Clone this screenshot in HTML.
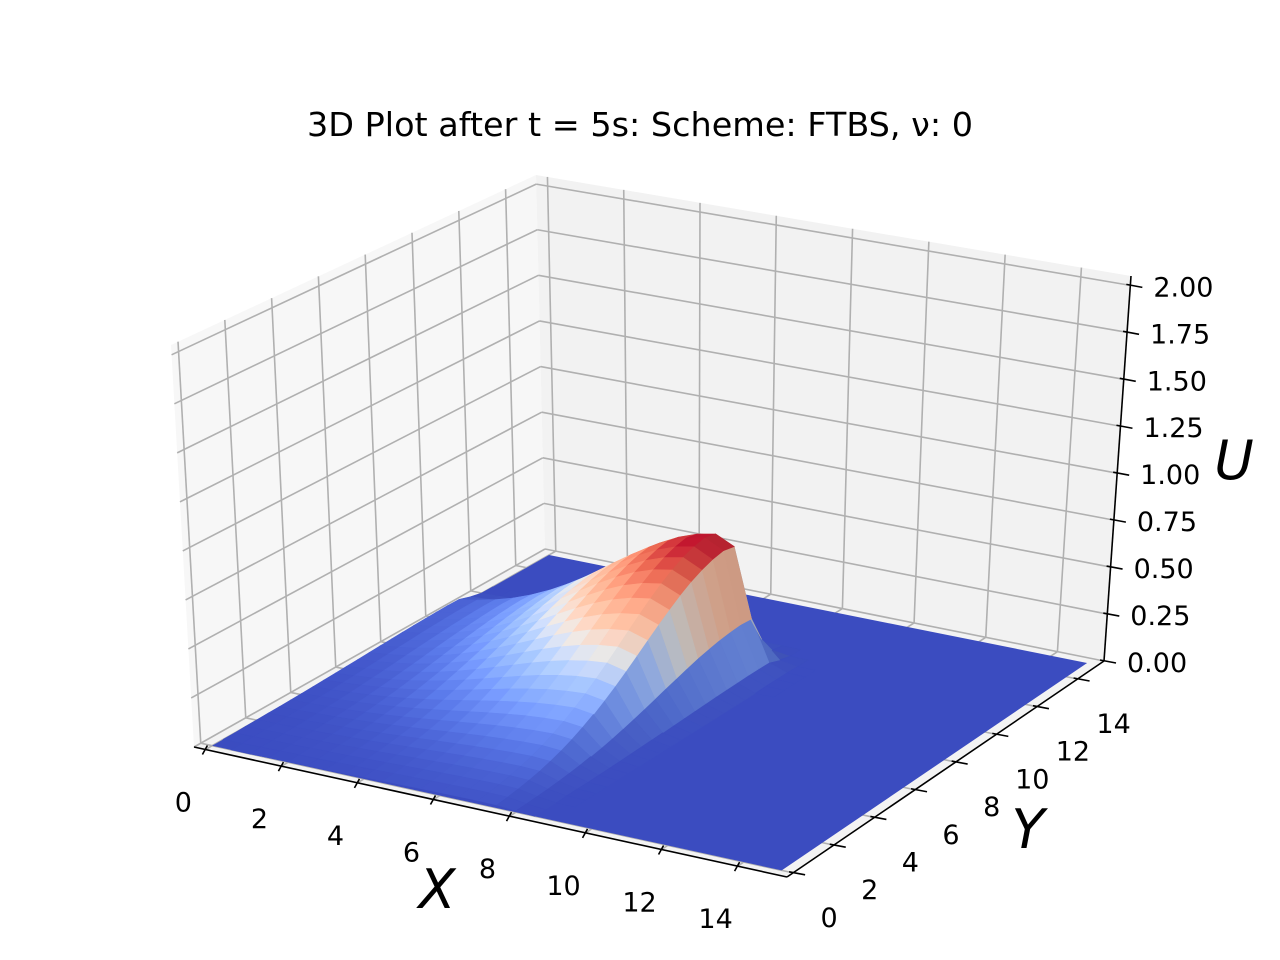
<!DOCTYPE html>
<html><head><meta charset="utf-8">
<style>
html,body{margin:0;padding:0;background:#fff;}
svg{display:block;font-family:"DejaVu Sans","Liberation Sans",sans-serif;}
</style></head>
<body>
<svg id="chart" width="1280" height="960" viewBox="0 0 1280 960" xmlns="http://www.w3.org/2000/svg">
<rect width="1280" height="960" fill="#fff"/>
<text x="640" y="136" font-size="33" text-anchor="middle" fill="#000" textLength="666" lengthAdjust="spacingAndGlyphs">3D Plot after t = 5s: Scheme: FTBS, ν: 0</text>
<g id="panes"></g>
<g id="grid"></g>
<g id="surf"></g>
<g id="axes"></g>
<text x="437" y="908" font-size="54" font-style="italic" text-anchor="middle">X</text>
<text x="1028" y="848" font-size="54" font-style="italic" text-anchor="middle">Y</text>
<text x="1234" y="479" font-size="54" font-style="italic" text-anchor="middle">U</text>
</svg>
<script>
// data
const xTicks = [0,2,4,6,8,10,12,14];
const yTicks = [0,2,4,6,8,10,12,14];
const zTicks = [0,0.25,0.5,0.75,1.0,1.25,1.5,1.75,2.0];
const zTickLabels = ["0.00","0.25","0.50","0.75","1.00","1.25","1.50","1.75","2.00"];
const peakU = [0.68];
const peakXY = [7.3, 10.9];
const tailSigma = [3.0, 4.0];
const frontSigma = [0.5, 0.45];

const NS="http://www.w3.org/2000/svg";
const xmin=-0.3,xmax=15.3,ymin=-0.3,ymax=15.3,zmin=0,zmax=2.05;
const C={F00:[194,747],F10:[787,877],F11:[1104,661],F01:[545,549],
         T00:[171,345],T10:[805,470],T11:[1131,276],T01:[536,175]};
function lerp(a,b,t){return [a[0]+(b[0]-a[0])*t,a[1]+(b[1]-a[1])*t];}
function proj(x,y,z){
  const u=(x-xmin)/(xmax-xmin),v=(y-ymin)/(ymax-ymin),w=(z-zmin)/(zmax-zmin);
  const b=lerp(lerp(C.F00,C.F10,u),lerp(C.F01,C.F11,u),v);
  const t=lerp(lerp(C.T00,C.T10,u),lerp(C.T01,C.T11,u),v);
  return lerp(b,t,w);
}
function el(tag,attrs,parent){const e=document.createElementNS(NS,tag);for(const k in attrs)e.setAttribute(k,attrs[k]);parent.appendChild(e);return e;}
function pts(a){return a.map(p=>p[0].toFixed(1)+","+p[1].toFixed(1)).join(" ");}

// panes
const panes=document.getElementById('panes');
let p=el('polygon',{points:pts([proj(xmin,ymin,zmin),proj(xmin,ymin,zmax),proj(xmin,ymax,zmax),proj(xmin,ymax,zmin)]),fill:'#f7f7f7'},panes);

p=el('polygon',{points:pts([proj(xmin,ymax,zmin),proj(xmin,ymax,zmax),proj(xmax,ymax,zmax),proj(xmax,ymax,zmin)]),fill:'#f2f2f2'},panes);

p=el('polygon',{points:pts([proj(xmin,ymin,zmin),proj(xmax,ymin,zmin),proj(xmax,ymax,zmin),proj(xmin,ymax,zmin)]),fill:'#f3f3f3'},panes);


// grid
const grid=document.getElementById('grid');
function gl(a,b,name){const l=el('line',{x1:a[0],y1:a[1],x2:b[0],y2:b[1],stroke:'#b0b0b0','stroke-width':1.6},grid);
  }
zTicks.forEach(z=>{gl(proj(xmin,ymin,z),proj(xmin,ymax,z),'z-gridline');gl(proj(xmin,ymax,z),proj(xmax,ymax,z),'z-gridline');});
yTicks.forEach(y=>{gl(proj(xmin,y,zmin),proj(xmin,y,zmax),'y-gridline');gl(proj(xmin,y,zmin),proj(xmax,y,zmin),'y-gridline');});
xTicks.forEach(x=>{gl(proj(x,ymax,zmin),proj(x,ymax,zmax),'x-gridline');gl(proj(x,ymin,zmin),proj(x,ymax,zmin),'x-gridline');});

// surface
function f1(d,s,fs){return d<=0?Math.exp(-d*d/(2*s*s)):Math.exp(-d*d/(2*fs*fs));}
function U(x,y){const v=peakU[0]*f1(x-peakXY[0],tailSigma[0],frontSigma[0])*f1(y-peakXY[1],tailSigma[1],frontSigma[1]);return v<0.002?0:v;}
const cmapS=[0,0.125,0.25,0.375,0.5,0.625,0.75,0.875,1];
const cmapC=[[59,76,192],[88,118,226],[124,159,249],[162,192,254],[221,221,221],[245,190,163],[244,154,123],[222,96,76],[180,4,38]];
function cmap(t){t=Math.max(0,Math.min(1,t));for(let i=0;i<cmapS.length-1;i++){if(t<=cmapS[i+1]){const k=(t-cmapS[i])/(cmapS[i+1]-cmapS[i]);return cmapC[i].map((c,j)=>c+(cmapC[i+1][j]-c)*k);}}return cmapC[8];}
const surf=document.getElementById('surf');
let fl=el('polygon',{points:pts([proj(0,0,0),proj(15,0,0),proj(15,15,0),proj(0,15,0)]),fill:'rgb(59,76,192)'},surf);

const N=30,h=15/N;
let vmax=0;const Z=[];
for(let i=0;i<=N;i++){Z.push([]);for(let j=0;j<=N;j++){const v=U(i*h,j*h);Z[i].push(v);if(v>vmax)vmax=v;}}
const L=[-0.667,-0.667,0.333];const zs=4.75;
const quads=[];
for(let i=0;i<N;i++)for(let j=0;j<N;j++){
  const a=Z[i][j],b=Z[i+1][j],c=Z[i+1][j+1],d=Z[i][j+1];
  if(a+b+c+d===0)continue;
  const x=i*h,y=j*h,zm=(a+b+c+d)/4;
  const dzdx=((b+c)-(a+d))/(2*h)*zs, dzdy=((c+d)-(a+b))/(2*h)*zs;
  const n=[-dzdx,-dzdy,1];const nl=Math.hypot(...n);
  const dt=(n[0]*L[0]+n[1]*L[1]+n[2]*L[2])/nl;
  let fac=(0.3+0.35*(dt+1))/(0.3+0.35*(L[2]+1));
  fac=1+0.4*(fac-1);
  const col=cmap(zm/vmax).map(v=>Math.max(0,Math.min(255,Math.round(v*fac))));
  const depth=(x+h/2)/15*0.433-(y+h/2)/15*0.75+zm/2*0.5;
  quads.push({depth,poly:[proj(x,y,a),proj(x+h,y,b),proj(x+h,y+h,c),proj(x,y+h,d)],col});
}
quads.sort((p,q)=>p.depth-q.depth);
quads.forEach(q=>{const c='rgb('+q.col.join(',')+')';
  const e=el('polygon',{points:pts(q.poly),fill:c,stroke:c,'stroke-width':0.6},surf);
  });

// axes
const axes=document.getElementById('axes');
function al(a,b,name,w){const l=el('line',{x1:a[0],y1:a[1],x2:b[0],y2:b[1],stroke:'#000','stroke-width':w||1.6},axes);
  }
function tx(x,y,s,name,anchor){const t=el('text',{x:x,y:y,'font-size':27,'text-anchor':anchor||'middle',fill:'#000'},axes);t.textContent=s;
  }
al(proj(xmin,ymin,zmin),proj(xmax,ymin,zmin),'x-axis-line');
al(proj(xmax,ymin,zmin),proj(xmax,ymax,zmin),'y-axis-line');
al(proj(xmax,ymax,zmin),proj(xmax,ymax,zmax),'z-axis-line');
xTicks.forEach(x=>{const p=proj(x,ymin,zmin);al([p[0]+2,p[1]-4],[p[0]-3,p[1]+5],'x-tick');tx(p[0]-22,p[1]+62,String(x),'x-tick-label');});
yTicks.forEach(y=>{const p=proj(xmax,y,zmin);al([p[0]-4,p[1]-1],[p[0]+12,p[1]+2],'y-tick');tx(p[0]+36,p[1]+54,String(y),'y-tick-label');});
zTicks.forEach((z,k)=>{const p=proj(xmax,ymax,z);al([p[0]-4,p[1]-1],[p[0]+12,p[1]+2],'z-tick');tx(p[0]+23,p[1]+11,zTickLabels[k],'z-tick-label','start');});
</script>
</body></html>
